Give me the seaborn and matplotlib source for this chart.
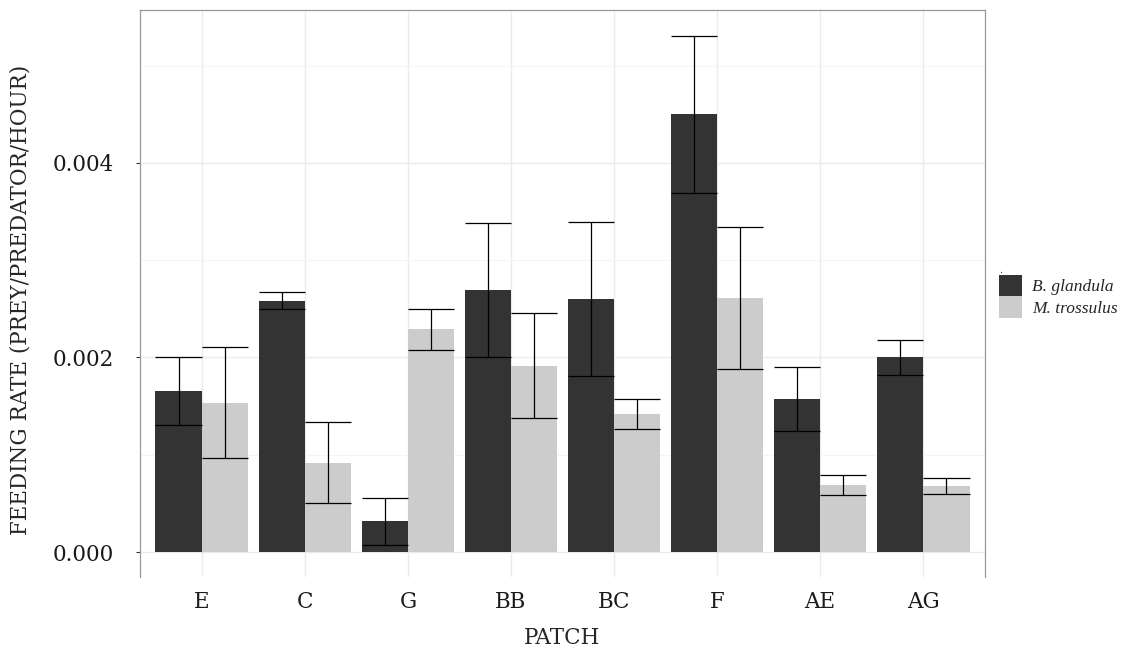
import matplotlib
matplotlib.use('Agg')
import matplotlib.pyplot as plt
import seaborn as sns
import pandas as pd
from matplotlib.ticker import MultipleLocator, FormatStrFormatter

# data (mean and standard error per patch)
patches = ['E', 'C', 'G', 'BB', 'BC', 'F', 'AE', 'AG']
species = ['B. glandula', 'M. trossulus']
balanus_rate = [0.001656, 0.002585, 0.000317, 0.002694, 0.002602, 0.004500, 0.001573, 0.002000]
balanus_se = [0.000345, 0.000089, 0.000240, 0.000685, 0.000795, 0.000810, 0.000325, 0.000177]
mytilus_rate = [0.001537, 0.000917, 0.002290, 0.001917, 0.001419, 0.002610, 0.000689, 0.000677]
mytilus_se = [0.000574, 0.000417, 0.000213, 0.000537, 0.000154, 0.000732, 0.000103, 0.000081]

df = pd.DataFrame({
    'patch': patches * 2,
    'species': [species[0]] * len(patches) + [species[1]] * len(patches),
    'rate': balanus_rate + mytilus_rate,
})

sns.set_style('white')
plt.rcParams['font.family'] = ['DejaVu Serif']

fig = plt.figure(figsize=(11.35, 6.51), dpi=100)
ax = fig.add_axes([140 / 1135, 1 - 577 / 651, 845 / 1135, 567 / 651])

sns.barplot(data=df, x='patch', y='rate', hue='species', order=patches,
            hue_order=species, palette=['#333333', '#cccccc'], saturation=1,
            width=0.9, errorbar=None, linewidth=0, ax=ax)

# error bars, caps as wide as the bars
for container, means, ses in zip(ax.containers, [balanus_rate, mytilus_rate],
                                 [balanus_se, mytilus_se]):
    for bar, m, s in zip(container, means, ses):
        x0 = bar.get_x()
        w = bar.get_width()
        ax.vlines(x0 + w / 2, m - s, m + s, color='black', lw=0.9, zorder=3)
        ax.hlines([m - s, m + s], x0, x0 + w, color='black', lw=0.9, zorder=3)

ax.set_xlim(-0.6, 7.6)
ax.set_ylim(-0.000257, 0.005573)
ax.yaxis.set_major_locator(MultipleLocator(0.002))
ax.yaxis.set_minor_locator(MultipleLocator(0.001))
ax.yaxis.set_major_formatter(FormatStrFormatter('%.3f'))

ax.set_axisbelow(True)
ax.grid(which='major', axis='both', color='#ebebeb', lw=1)
ax.grid(which='minor', axis='y', color='#f5f5f5', lw=0.8)

for side in ['left', 'top', 'right']:
    ax.spines[side].set_visible(True)
    ax.spines[side].set_color('#999999')
    ax.spines[side].set_linewidth(0.9)
ax.spines['bottom'].set_visible(False)

ax.tick_params(axis='y', which='major', left=True, length=3, width=0.8,
               color='#333333', pad=16, labelsize=15.5, labelcolor='#1a1a1a')
ax.tick_params(axis='y', which='minor', left=False)
ax.tick_params(axis='x', bottom=False, length=0, pad=10, labelsize=15.5,
               labelcolor='#1a1a1a')

ax.set_xlabel('PATCH', fontsize=15.5, labelpad=10.5)
ax.set_ylabel('FEEDING RATE (PREY/PREDATOR/HOUR)', fontsize=15.5,
              labelpad=15, y=0.488)

handles, labels = ax.get_legend_handles_labels()
leg = ax.legend(handles, labels, title='.', loc='upper left',
                bbox_to_anchor=(999 / 1135, 1 - 266 / 651),
                bbox_transform=fig.transFigure, frameon=False,
                prop={'family': 'Liberation Serif', 'style': 'italic',
                      'size': 12.5},
                title_fontsize=7, handlelength=1.32, handleheight=1.52,
                handletextpad=0.6, labelspacing=0.0, borderpad=0,
                borderaxespad=0)
leg._legend_box.align = 'left'

fig.savefig('out.png', dpi=100)
